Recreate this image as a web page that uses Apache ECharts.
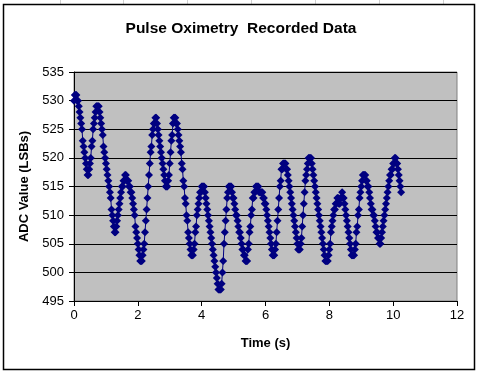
<!DOCTYPE html>
<html>
<head>
<meta charset="utf-8">
<script src="https://cdn.jsdelivr.net/npm/echarts@6/dist/echarts.min.js"></script>
<style>
html,body{margin:0;padding:0;background:#fff;}
#chart{width:482px;height:373px;}
</style>
</head>
<body>
<div id="chart"></div>
<script>
// Sample period (s) of the recording
const sampleStep = 0.025;
// ADC readings (LSBs), one per sample
const adcValues = [
  530,531,531,531,530,530,529,528,527,526,525,523,522,521,520,519,518,517,517,518,
  519,520,522,523,525,526,527,528,529,529,529,529,528,527,526,525,524,522,521,520,
  519,518,517,516,515,514,513,511,510,509,508,507,507,508,509,510,511,512,513,514,
  515,515,516,516,517,517,516,516,516,515,515,514,514,513,512,511,510,508,507,506,
  505,504,503,502,502,502,503,504,505,507,509,511,513,515,517,519,521,522,524,525,
  526,526,527,527,526,525,524,523,522,521,520,519,518,517,516,515,515,515,516,517,
  519,521,523,524,526,527,527,527,526,526,525,524,523,522,521,519,518,516,515,513,
  512,510,509,507,506,505,504,503,503,503,504,505,507,508,510,511,512,513,514,514,
  515,515,515,515,514,513,512,511,510,509,508,507,506,505,504,503,502,501,500,499,
  498,497,497,497,497,498,500,502,505,507,509,511,513,514,515,515,515,515,514,513,
  513,512,511,510,510,509,508,507,507,506,505,504,504,503,503,502,502,502,504,505,
  507,508,510,511,513,513,514,514,515,515,515,515,514,514,514,514,514,513,513,512,
  512,511,510,509,508,507,506,505,504,503,503,503,504,505,507,509,511,513,515,516,
  518,518,519,519,519,519,518,518,517,516,515,514,513,512,511,510,509,508,507,506,
  505,504,504,504,505,506,508,510,512,514,516,517,518,519,520,520,520,520,519,518,
  517,516,515,514,513,512,511,510,509,508,507,506,505,504,503,502,502,502,502,503,
  504,505,507,508,509,510,511,511,512,512,513,513,512,512,513,513,514,513,513,512,
  511,510,509,508,507,506,505,504,503,503,503,503,504,505,507,508,510,511,513,514,
  515,516,517,517,517,517,516,516,515,515,514,513,512,511,511,510,510,509,508,507,
  507,506,506,505,505,506,507,508,509,510,511,512,513,514,515,516,517,517,518,518,
  519,519,520,520,519,519,518,517,516,515,514
];
const xTicks = [0, 2, 4, 6, 8, 10, 12];
const yTicks = [495, 500, 505, 510, 515, 520, 525, 530, 535];

const seriesData = adcValues.map((v, i) => [+(i * sampleStep).toFixed(3), v]);

const chart = echarts.init(document.getElementById('chart'), null, {renderer: 'canvas'});
const font = 'Arial, "Liberation Sans", sans-serif';
const topLines = [60, 123, 187, 251, 315, 379, 443];

chart.setOption({
  animation: false,
  backgroundColor: '#ffffff',
  title: {
    text: 'Pulse Oximetry  Recorded Data',
    left: 'center',
    top: 16,
    textStyle: {fontFamily: font, fontSize: 15.5, fontWeight: 'bold', color: '#000'}
  },
  grid: {left: 74, right: 25, top: 72, bottom: 72, show: true,
         backgroundColor: '#c0c0c0', borderColor: '#808080', borderWidth: 1},
  xAxis: {
    type: 'value', min: xTicks[0], max: xTicks[xTicks.length - 1], interval: 2,
    name: 'Time (s)', nameLocation: 'middle', nameGap: 36,
    nameTextStyle: {fontFamily: font, fontSize: 13, fontWeight: 'bold', color: '#000'},
    axisLine: {show: true, lineStyle: {color: '#000', width: 1}},
    axisTick: {show: true, inside: false, length: 5, lineStyle: {color: '#000'}},
    axisLabel: {fontFamily: font, fontSize: 13, color: '#000', margin: 8},
    splitLine: {show: false}
  },
  yAxis: {
    type: 'value', min: yTicks[0], max: yTicks[yTicks.length - 1], interval: 5,
    name: 'ADC Value (LSBs)', nameLocation: 'middle', nameGap: 38, nameRotate: 90,
    nameTextStyle: {fontFamily: font, fontSize: 13, fontWeight: 'bold', color: '#000'},
    axisLine: {show: true, lineStyle: {color: '#000', width: 1}},
    axisTick: {show: true, inside: false, length: 5, lineStyle: {color: '#000'}},
    axisLabel: {fontFamily: font, fontSize: 13, color: '#000', margin: 10},
    splitLine: {show: true, lineStyle: {color: '#000', width: 1}}
  },
  series: [{
    type: 'line',
    data: seriesData,
    symbol: 'diamond',
    symbolSize: 8,
    showAllSymbol: true,
    lineStyle: {color: '#000080', width: 1},
    itemStyle: {color: '#000080', borderColor: '#000080', borderWidth: 0}
  }],
  graphic: [
    ...topLines.map(x => ({type: 'line', shape: {x1: x + 0.5, y1: 0, x2: x + 0.5, y2: 4},
      style: {stroke: '#d0d0d0', lineWidth: 1}, silent: true})),
    {type: 'rect', shape: {x: 3.5, y: 4.5, width: 471, height: 365},
     style: {fill: null, stroke: '#000', lineWidth: 1.5}, silent: true}
  ]
});
</script>
</body>
</html>
